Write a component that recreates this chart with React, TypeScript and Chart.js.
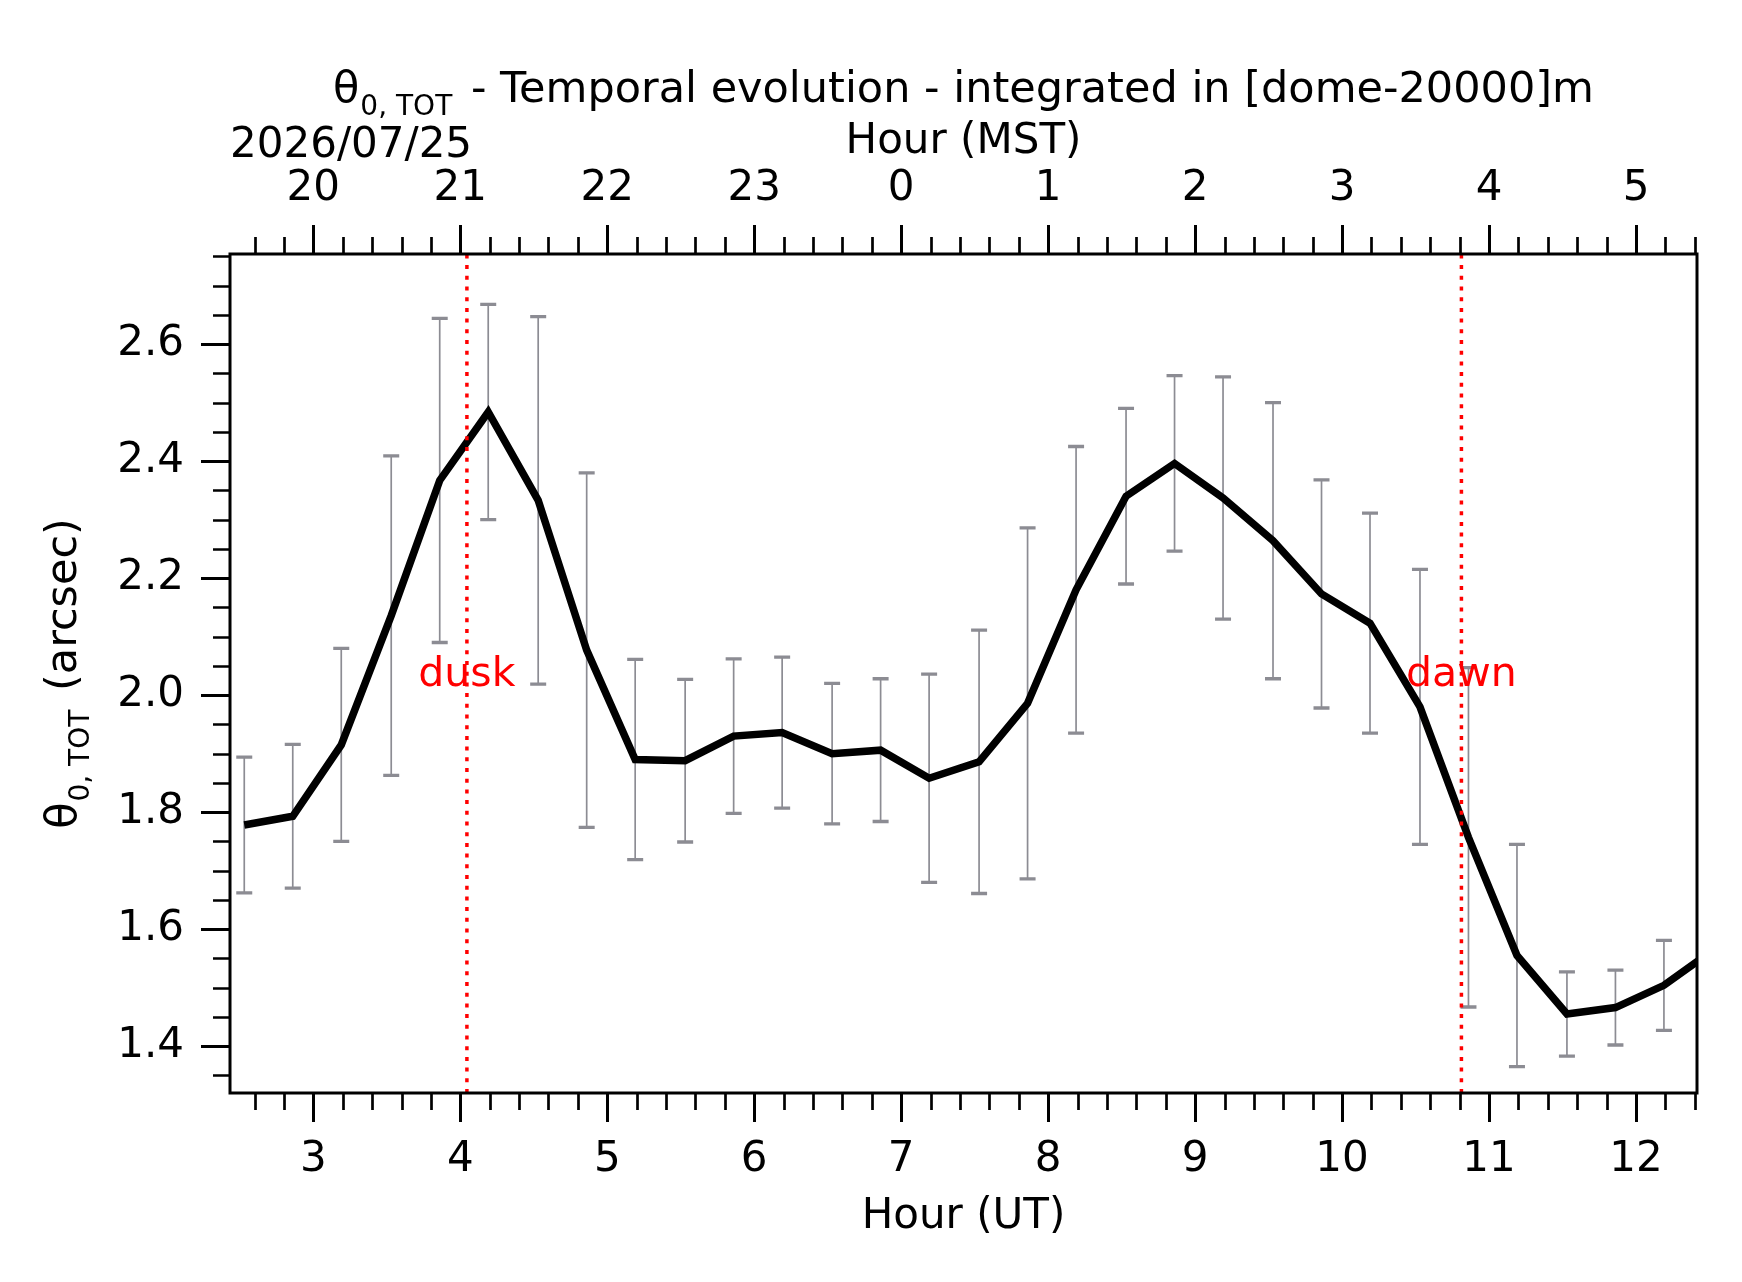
import { useEffect, useRef } from "react";
import { Chart, registerables } from "chart.js";
import type { Plugin } from "chart.js";

Chart.register(...registerables);

// Hour (UT) of each 20-minute sample
const hoursUT = [
  2.53, 2.86, 3.19, 3.53, 3.86, 4.19, 4.53, 4.86, 5.19, 5.53, 5.86, 6.19, 6.53,
  6.86, 7.19, 7.53, 7.86, 8.19, 8.53, 8.86, 9.19, 9.53, 9.86, 10.19, 10.53,
  10.86, 11.19, 11.53, 11.86, 12.19, 12.53,
];
// isoplanatic angle (arcsec)
const theta0 = [
  1.778, 1.793, 1.915, 2.136, 2.367, 2.484, 2.333, 2.077, 1.89, 1.888, 1.93,
  1.936, 1.9, 1.906, 1.858, 1.886, 1.986, 2.18, 2.34, 2.396, 2.337, 2.264,
  2.173, 2.123, 1.98, 1.757, 1.555, 1.455, 1.466, 1.504, 1.565,
];
// standard deviation
const theta0Err = [
  0.116, 0.123, 0.165, 0.273, 0.277, 0.184, 0.314, 0.303, 0.171, 0.139, 0.132,
  0.129, 0.12, 0.122, 0.178, 0.225, 0.3, 0.245, 0.15, 0.15, 0.207, 0.236,
  0.195, 0.188, 0.235, 0.29, 0.19, 0.072, 0.064, 0.077, 0.08,
];

const utTicks = [3, 4, 5, 6, 7, 8, 9, 10, 11, 12];
const mstTickLabels = ["20", "21", "22", "23", "0", "1", "2", "3", "4", "5"];
const yTicks = [1.4, 1.6, 1.8, 2.0, 2.2, 2.4, 2.6];

const eventLabels = ["dusk", "dawn"];
const eventHours = [4.045, 10.812];
const EVENT_LABEL_Y = 2.0;

const DATE_LABEL = "2026/07/25";

const X_MIN = 2.433;
const X_MAX = 12.415;
const Y_MIN = 1.32;
const Y_MAX = 2.754;

const FONT = '"DejaVu Sans", sans-serif';
const FS = 42;
const TITLE_FS = 43;
const YLABEL_FS = 43;
const SUB_FS = 28;
const ERR_COLOR = "#8c8c93";
const MAJOR_LEN = 29;
const MINOR_LEN = 17;

type Part = { t: string; size: number; dy: number; gap: number };

const thetaParts = (rest: string, size: number): Part[] => [
  { t: "θ", size, dy: 0, gap: 1 },
  { t: "0, TOT", size: SUB_FS, dy: 13, gap: 5 },
  { t: rest, size, dy: 0, gap: 0 },
];

function drawParts(
  ctx: CanvasRenderingContext2D,
  parts: Part[],
  cx: number,
  baseline: number,
) {
  let width = 0;
  parts.forEach((p) => {
    ctx.font = `${p.size}px ${FONT}`;
    width += ctx.measureText(p.t).width + p.gap;
  });
  let x = cx - width / 2;
  ctx.textAlign = "left";
  ctx.textBaseline = "alphabetic";
  parts.forEach((p) => {
    ctx.font = `${p.size}px ${FONT}`;
    ctx.fillText(p.t, x, baseline + p.dy);
    x += ctx.measureText(p.t).width + p.gap;
  });
}

const decorPlugin: Plugin<"line"> = {
  id: "decor",
  beforeDatasetsDraw(chart) {
    const { ctx, chartArea: a } = chart;
    const x = chart.scales.x;
    const y = chart.scales.y;
    ctx.save();
    ctx.beginPath();
    ctx.rect(a.left, a.top, a.right - a.left, a.bottom - a.top);
    ctx.clip();
    ctx.strokeStyle = ERR_COLOR;
    hoursUT.forEach((h, i) => {
      const px = x.getPixelForValue(h);
      const top = y.getPixelForValue(theta0[i] + theta0Err[i]);
      const bot = y.getPixelForValue(theta0[i] - theta0Err[i]);
      ctx.lineWidth = 1.7;
      ctx.beginPath();
      ctx.moveTo(px, top);
      ctx.lineTo(px, bot);
      ctx.stroke();
      ctx.lineWidth = 3.3;
      ctx.beginPath();
      ctx.moveTo(px - 8, top);
      ctx.lineTo(px + 8, top);
      ctx.moveTo(px - 8, bot);
      ctx.lineTo(px + 8, bot);
      ctx.stroke();
    });
    ctx.restore();
  },
  afterDatasetsDraw(chart) {
    const { ctx } = chart;
    const x = chart.scales.x;
    const y = chart.scales.y;
    ctx.save();
    ctx.fillStyle = "red";
    ctx.font = `41px ${FONT}`;
    ctx.textAlign = "center";
    ctx.textBaseline = "alphabetic";
    eventLabels.forEach((label, i) => {
      ctx.fillText(
        label,
        x.getPixelForValue(eventHours[i]),
        y.getPixelForValue(EVENT_LABEL_Y) - 9.5,
      );
    });
    ctx.restore();
  },
  afterDraw(chart) {
    const { ctx, chartArea: a } = chart;
    const x = chart.scales.x;
    const y = chart.scales.y;
    ctx.save();
    ctx.strokeStyle = "#000";
    ctx.lineWidth = 3;
    ctx.strokeRect(a.left, a.top, a.right - a.left, a.bottom - a.top);

    // minor ticks
    ctx.lineWidth = 2.7;
    ctx.beginPath();
    for (let k = Math.ceil(X_MIN * 5); k <= Math.floor(X_MAX * 5); k++) {
      if (k % 5 === 0) continue;
      const px = Math.round(x.getPixelForValue(k / 5)) + 0.5;
      ctx.moveTo(px, a.bottom);
      ctx.lineTo(px, a.bottom + MINOR_LEN);
      ctx.moveTo(px, a.top);
      ctx.lineTo(px, a.top - MINOR_LEN);
    }
    for (let k = Math.ceil(Y_MIN * 20); k <= Math.floor(Y_MAX * 20); k++) {
      if (k % 4 === 0) continue;
      const py = Math.round(y.getPixelForValue(k / 20)) + 0.5;
      ctx.moveTo(a.left, py);
      ctx.lineTo(a.left - MINOR_LEN, py);
    }
    ctx.stroke();

    // texts
    ctx.fillStyle = "#000";
    const cx = (a.left + a.right) / 2;
    drawParts(
      ctx,
      thetaParts(" - Temporal evolution - integrated in [dome-20000]m", TITLE_FS),
      cx,
      101.7,
    );

    ctx.font = `${FS}px ${FONT}`;
    ctx.textAlign = "left";
    ctx.textBaseline = "alphabetic";
    ctx.fillText(DATE_LABEL, a.left, 157);

    ctx.save();
    ctx.translate(76, (a.top + a.bottom) / 2);
    ctx.rotate(-Math.PI / 2);
    drawParts(ctx, thetaParts(" (arcsec)", YLABEL_FS), 0, 0);
    ctx.restore();

    ctx.restore();
  },
};

const tickGrid = {
  drawOnChartArea: false,
  drawTicks: true,
  tickLength: MAJOR_LEN,
  tickWidth: 3,
  tickColor: "#000",
};

export default function App() {
  const chartRef = useRef<HTMLCanvasElement | null>(null);
  const chartInstance = useRef<Chart<"line"> | null>(null);

  useEffect(() => {
    document.body.style.margin = "0";
    if (!chartRef.current) return;
    const ctx = chartRef.current.getContext("2d");
    if (!ctx) return;

    if (chartInstance.current) chartInstance.current.destroy();

    Chart.defaults.font.family = FONT;
    Chart.defaults.color = "#000";

    chartInstance.current = new Chart(ctx, {
      type: "line",
      data: {
        datasets: [
          ...eventHours.map((h, i) => ({
            label: eventLabels[i],
            data: [
              { x: h, y: Y_MIN },
              { x: h, y: Y_MAX },
            ],
            borderColor: "red",
            borderWidth: 3.5,
            borderDash: [4, 6.7],
            pointRadius: 0,
            order: 0,
          })),
          {
            label: "theta0",
            data: hoursUT.map((h, i) => ({ x: h, y: theta0[i] })),
            borderColor: "#000",
            borderWidth: 7.5,
            pointRadius: 0,
            tension: 0,
            clip: 0,
            order: 1,
          },
        ],
      },
      options: {
        animation: false,
        responsive: true,
        maintainAspectRatio: false,
        devicePixelRatio: 1,
        events: [],
        layout: { padding: { left: 0, right: 45, top: 0, bottom: 0 } },
        plugins: {
          legend: { display: false },
          tooltip: { enabled: false },
          title: { display: false },
        },
        scales: {
          x: {
            type: "linear",
            position: "bottom",
            min: X_MIN,
            max: X_MAX,
            afterBuildTicks: (s) => {
              s.ticks = utTicks.map((v) => ({ value: v }));
            },
            afterFit: (s) => {
              s.height = 189;
            },
            grid: tickGrid,
            border: { display: false },
            ticks: {
              padding: 13,
              color: "#000",
              font: { size: FS },
              maxRotation: 0,
              autoSkip: false,
              callback: (v) => String(v),
            },
            title: {
              display: true,
              text: "Hour (UT)",
              color: "#000",
              font: { size: FS },
              padding: { top: 0, bottom: 40 },
            },
          },
          x2: {
            type: "linear",
            position: "top",
            min: X_MIN,
            max: X_MAX,
            afterBuildTicks: (s) => {
              s.ticks = utTicks.map((v) => ({ value: v }));
            },
            afterFit: (s) => {
              s.height = 254;
            },
            grid: tickGrid,
            border: { display: false },
            ticks: {
              padding: 11,
              color: "#000",
              font: { size: FS },
              maxRotation: 0,
              autoSkip: false,
              callback: (_v, i) => mstTickLabels[i],
            },
            title: {
              display: true,
              text: "Hour (MST)",
              color: "#000",
              font: { size: FS },
              padding: { top: 117, bottom: 0 },
            },
          },
          y: {
            type: "linear",
            position: "left",
            min: Y_MIN,
            max: Y_MAX,
            afterBuildTicks: (s) => {
              s.ticks = yTicks.map((v) => ({ value: v }));
            },
            afterFit: (s) => {
              s.width = 230;
            },
            grid: tickGrid,
            border: { display: false },
            ticks: {
              padding: 17,
              color: "#000",
              font: { size: FS },
              callback: (v) => Number(v).toFixed(1),
            },
          },
        },
      },
      plugins: [decorPlugin],
    });

    return () => {
      if (chartInstance.current) {
        chartInstance.current.destroy();
        chartInstance.current = null;
      }
    };
  }, []);

  return (
    <div
      style={{
        position: "absolute",
        left: 0,
        top: 0,
        width: 1742,
        height: 1282,
        background: "#fff",
      }}
    >
      <canvas ref={chartRef} />
    </div>
  );
}
